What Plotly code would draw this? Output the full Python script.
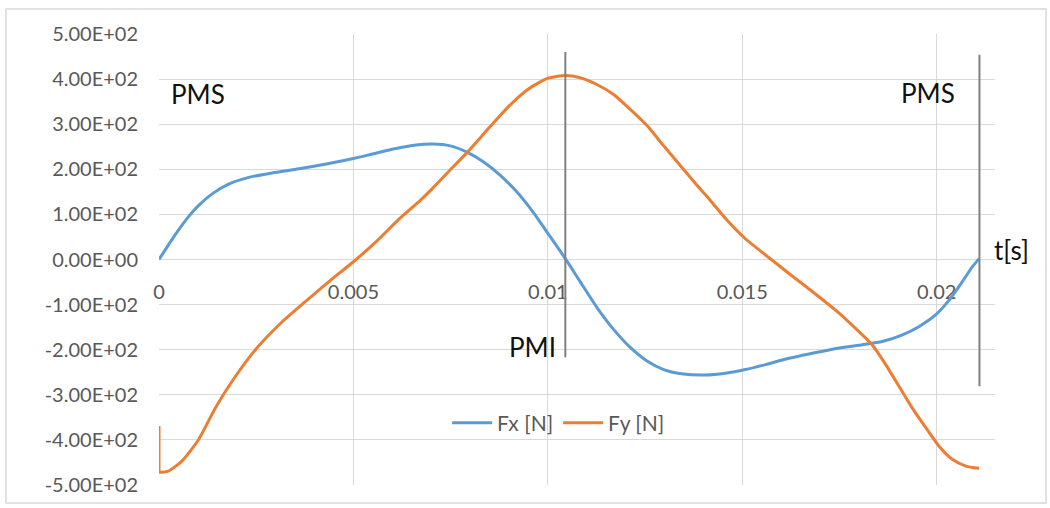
import plotly.graph_objects as go

# Time samples (s) and forces (N)
t_fx = [0.0, 0.00041, 0.00076, 0.00102, 0.00136, 0.00179, 0.00231, 0.00291,
        0.00360, 0.00437, 0.00500, 0.00549, 0.00609, 0.00661, 0.00704, 0.00749,
        0.00792, 0.00835, 0.00877, 0.00920, 0.00963, 0.01000, 0.01045, 0.01083,
        0.01126, 0.01169, 0.01212, 0.01255, 0.01298, 0.01349, 0.01405, 0.01457,
        0.01508, 0.01560, 0.01620, 0.01680, 0.01749, 0.01809, 0.01860, 0.01912,
        0.01954, 0.01997, 0.02032, 0.02066, 0.02092, 0.02109]
fx = [0, 54, 95, 120, 145, 167, 182, 192,
      201, 213, 224, 234, 246, 254, 256, 252,
      238, 216, 187, 150, 104, 58, 2, -49,
      -106, -155, -195, -225, -244, -254, -256, -252,
      -244, -233, -219, -208, -196, -189, -182, -167,
      -149, -123, -90, -49, -16, 2]

t_fy = [0.0, 0.0, 0.00024, 0.00059, 0.00102, 0.00145, 0.00188, 0.00248,
        0.00317, 0.00377, 0.00437, 0.00500, 0.00558, 0.00618, 0.00672, 0.00706,
        0.00745, 0.00792, 0.00850, 0.00900, 0.00950, 0.01000, 0.01045,
        0.01083, 0.01126, 0.01169, 0.01212, 0.01255, 0.01298, 0.01341, 0.01384,
        0.01418, 0.01457, 0.01508, 0.01560, 0.01620, 0.01680, 0.01749, 0.01800,
        0.01834, 0.01869, 0.01903, 0.01937, 0.01972, 0.02006, 0.02040, 0.02075,
        0.02109]
fy = [-369, -472, -469, -447, -399, -329, -270, -200,
      -138, -93, -49, -5, 39, 90, 131, 160,
      195, 237, 293, 340, 378, 402, 408,
      403, 388, 366, 333, 297, 252, 208, 164,
      131, 91, 46, 10, -31, -71, -119, -160,
      -189, -233, -281, -329, -373, -414, -443, -458,
      -463]

# Dead-centre markers: time and vertical extent of each line
dc_t = [0.01045, 0.0211]
dc_low = [-217, -281]
dc_high = [460, 454]

# Axis ticks
y_ticks = [500, 400, 300, 200, 100, 0, -100, -200, -300, -400, -500]
y_labels = ["5.00E+02", "4.00E+02", "3.00E+02", "2.00E+02", "1.00E+02", "0.00E+00",
            "-1.00E+02", "-2.00E+02", "-3.00E+02", "-4.00E+02", "-5.00E+02"]
x_ticks = [0, 0.005, 0.01, 0.015, 0.02]
x_labels = ["0", "0.005", "0.01", "0.015", "0.02"]

BLUE = "#5B9BD5"
ORANGE = "#ED7D31"
GRID = "#D9D9D9"
FONT = "Lato"

fig = go.Figure()
fig.add_trace(go.Scatter(x=t_fx, y=fx, mode="lines", name="Fx [N]",
                         line=dict(color=BLUE, width=3, shape="spline", smoothing=0.6)))
# Fy: the step at t = 0 is drawn straight, the rest as a smooth curve
fig.add_trace(go.Scatter(x=t_fy[:2], y=fy[:2], mode="lines", name="Fy [N]",
                         legendgroup="fy", showlegend=False, hoverinfo="skip",
                         line=dict(color=ORANGE, width=3)))
fig.add_trace(go.Scatter(x=t_fy[1:], y=fy[1:], mode="lines", name="Fy [N]",
                         legendgroup="fy",
                         line=dict(color=ORANGE, width=3, shape="spline", smoothing=0.6)))
for t0, lo, hi in zip(dc_t, dc_low, dc_high):
    fig.add_trace(go.Scatter(x=[t0, t0], y=[lo, hi], mode="lines", showlegend=False,
                             hoverinfo="skip", line=dict(color="#808080", width=2)))

text_style = dict(family=FONT, size=26, color="#111111")
fig.add_annotation(x=0.00026, y=367, text="PMS", showarrow=False, xanchor="left",
                   font=text_style)
fig.add_annotation(x=0.01903, y=369, text="PMS", showarrow=False, xanchor="left",
                   font=text_style)
fig.add_annotation(x=0.01026, y=-193, text="PMI", showarrow=False, xanchor="right",
                   font=text_style)
fig.add_annotation(x=0.02141, y=22, text="t[s]", showarrow=False, xanchor="left",
                   font=text_style)

L, R, T, B = 159, 55, 34, 21
W, H = 1050, 508
pw, ph = W - L - R, H - T - B
# Light frame around the whole chart
fig.add_shape(type="rect", xref="paper", yref="paper",
              x0=(6 - L) / pw, x1=(1046 - L) / pw,
              y0=(H - B - 505) / ph, y1=(H - B - 9) / ph,
              line=dict(color=GRID, width=1.5), fillcolor="rgba(0,0,0,0)", layer="below")

fig.update_layout(
    width=W, height=H,
    margin=dict(l=L, r=R, t=T, b=B),
    paper_bgcolor="white", plot_bgcolor="white",
    font=dict(family=FONT, size=20, color="#595959"),
    showlegend=True,
    legend=dict(orientation="h", x=0.478, y=0.137, xanchor="center", yanchor="middle",
                bgcolor="rgba(0,0,0,0)", font=dict(family=FONT, size=21, color="#595959"),
                itemwidth=40, tracegroupgap=0),
    xaxis=dict(range=[0, 0.0215], tickvals=x_ticks, ticktext=x_labels,
               showgrid=True, gridcolor=GRID, gridwidth=1, zeroline=False,
               showline=False, ticks="", anchor="free", position=0.5,
               layer="below traces", ticklabelstandoff=18,
               tickfont=dict(family=FONT, size=20, color="#595959")),
    yaxis=dict(range=[-500, 500], tickvals=y_ticks, ticktext=y_labels,
               showgrid=True, gridcolor=GRID, gridwidth=1, zeroline=False,
               showline=False, ticks="", ticklabelstandoff=20,
               tickfont=dict(family=FONT, size=20, color="#595959")),
)

fig.write_html("out.html")
